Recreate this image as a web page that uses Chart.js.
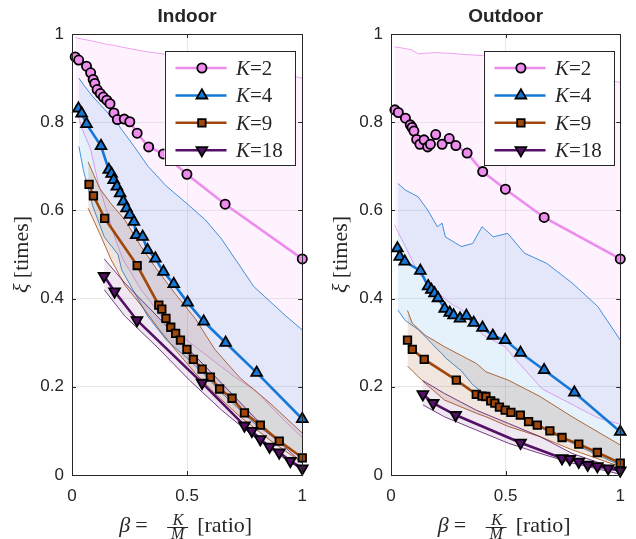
<!DOCTYPE html>
<html>
<head>
<meta charset="utf-8">
<title>Indoor / Outdoor</title>
<script src="https://cdn.jsdelivr.net/npm/chart.js@4.4.1/dist/chart.umd.min.js"></script>
<style>
  body { margin: 0; background: #fff; }
  #wrap { position: relative; width: 636px; height: 539px; }
  canvas { position: absolute; top: 0; }
</style>
</head>
<body>
<div id="wrap">
  <canvas id="indoor" width="318" height="539" style="left:0"></canvas>
  <canvas id="outdoor" width="318" height="539" style="left:318px"></canvas>
</div>
<script>
// ---- ticks ----
const xTicks = [0, 0.5, 1];
const xTickLabels = ['0', '0.5', '1'];
const yTicks = [0, 0.2, 0.4, 0.6, 0.8, 1];
const yTickLabels = ['0', '0.2', '0.4', '0.6', '0.8', '1'];
const kLabels = ['2', '4', '9', '18'];

// ---- Indoor: mean values ----
const inK2x = [0.014, 0.029, 0.063, 0.081, 0.092, 0.099, 0.109, 0.123, 0.136, 0.151, 0.165, 0.182, 0.197, 0.227, 0.251, 0.283, 0.333, 0.397, 0.499, 0.665, 1.0];
const inK2y = [0.948, 0.941, 0.927, 0.912, 0.897, 0.888, 0.874, 0.865, 0.857, 0.850, 0.842, 0.821, 0.806, 0.807, 0.801, 0.775, 0.744, 0.728, 0.682, 0.614, 0.490];
const inK4x = [0.028, 0.042, 0.063, 0.126, 0.160, 0.172, 0.181, 0.195, 0.209, 0.223, 0.237, 0.251, 0.269, 0.279, 0.307, 0.328, 0.362, 0.397, 0.442, 0.502, 0.572, 0.667, 0.802, 1.0];
const inK4y = [0.831, 0.820, 0.796, 0.746, 0.692, 0.683, 0.669, 0.654, 0.639, 0.620, 0.605, 0.590, 0.574, 0.544, 0.540, 0.510, 0.491, 0.461, 0.433, 0.391, 0.348, 0.300, 0.232, 0.127];
const inK9x = [0.074, 0.093, 0.142, 0.283, 0.377, 0.390, 0.408, 0.429, 0.450, 0.471, 0.499, 0.527, 0.565, 0.601, 0.641, 0.695, 0.749, 0.818, 0.900, 1.0];
const inK9y = [0.659, 0.633, 0.582, 0.475, 0.385, 0.376, 0.355, 0.335, 0.321, 0.306, 0.285, 0.262, 0.240, 0.222, 0.195, 0.174, 0.141, 0.113, 0.077, 0.039];
const inK18x = [0.139, 0.185, 0.282, 0.565, 0.749, 0.781, 0.818, 0.858, 0.900, 0.948, 1.0];
const inK18y = [0.451, 0.416, 0.351, 0.209, 0.112, 0.100, 0.081, 0.064, 0.051, 0.032, 0.015];

// ---- Indoor: min / max bands ----
const inB2x = [0.015, 0.04, 0.08, 0.115, 0.15, 0.185, 0.22, 0.3, 0.335, 0.41, 0.5, 0.6, 0.7, 0.8, 0.9, 1.0];
const inB2hi = [0.992, 0.989, 0.985, 0.981, 0.977, 0.974, 0.970, 0.962, 0.959, 0.954, 0.948, 0.940, 0.930, 0.920, 0.910, 0.900];
const inB2lo = [0.840, 0.790, 0.740, 0.660, 0.600, 0.540, 0.490, 0.420, 0.397, 0.344, 0.305, 0.265, 0.225, 0.190, 0.135, 0.085];
const inB4x = [0.03, 0.05, 0.09, 0.14, 0.2, 0.216, 0.27, 0.33, 0.41, 0.5, 0.58, 0.65, 0.79, 0.93, 1.0];
const inB4hi = [0.900, 0.885, 0.858, 0.830, 0.795, 0.783, 0.745, 0.700, 0.655, 0.615, 0.578, 0.535, 0.427, 0.360, 0.329];
const inB4lo = [0.745, 0.690, 0.610, 0.540, 0.500, 0.465, 0.415, 0.359, 0.306, 0.265, 0.225, 0.186, 0.118, 0.064, 0.041];
const inB9x = [0.07, 0.12, 0.17, 0.23, 0.30, 0.37, 0.45, 0.535, 0.62, 0.73, 0.86, 1.0];
const inB9hi = [0.710, 0.650, 0.615, 0.578, 0.518, 0.465, 0.410, 0.355, 0.285, 0.220, 0.163, 0.095];
const inB9lo = [0.605, 0.548, 0.488, 0.430, 0.385, 0.336, 0.283, 0.231, 0.185, 0.132, 0.079, 0.027];
const inB18x = [0.14, 0.23, 0.37, 0.51, 0.65, 0.79, 0.9, 1.0];
const inB18hi = [0.490, 0.435, 0.360, 0.283, 0.208, 0.132, 0.075, 0.027];
const inB18lo = [0.420, 0.360, 0.290, 0.215, 0.147, 0.087, 0.045, 0.011];

// ---- Outdoor: mean values ----
const outK2x = [0.017, 0.032, 0.063, 0.084, 0.092, 0.100, 0.112, 0.126, 0.144, 0.160, 0.172, 0.195, 0.223, 0.254, 0.283, 0.332, 0.400, 0.499, 0.668, 1.0];
const outK2y = [0.828, 0.822, 0.809, 0.794, 0.788, 0.780, 0.761, 0.750, 0.760, 0.744, 0.750, 0.772, 0.750, 0.763, 0.747, 0.730, 0.688, 0.648, 0.584, 0.490];
const outK4x = [0.028, 0.038, 0.060, 0.128, 0.162, 0.176, 0.190, 0.205, 0.234, 0.256, 0.273, 0.301, 0.329, 0.361, 0.399, 0.444, 0.498, 0.565, 0.668, 0.800, 1.0];
const outK4y = [0.514, 0.495, 0.484, 0.463, 0.428, 0.420, 0.412, 0.401, 0.377, 0.368, 0.362, 0.355, 0.361, 0.345, 0.334, 0.316, 0.306, 0.277, 0.238, 0.187, 0.098];
const outK9x = [0.072, 0.093, 0.145, 0.285, 0.372, 0.397, 0.414, 0.435, 0.453, 0.473, 0.498, 0.523, 0.564, 0.600, 0.638, 0.693, 0.746, 0.819, 0.900, 1.0];
const outK9y = [0.306, 0.285, 0.262, 0.215, 0.183, 0.179, 0.178, 0.168, 0.163, 0.154, 0.147, 0.142, 0.136, 0.121, 0.113, 0.100, 0.085, 0.070, 0.051, 0.027];
const outK18x = [0.139, 0.184, 0.282, 0.565, 0.746, 0.780, 0.819, 0.858, 0.900, 0.947, 1.0];
const outK18y = [0.183, 0.163, 0.136, 0.073, 0.038, 0.036, 0.030, 0.023, 0.020, 0.015, 0.010];

// ---- Outdoor: min / max bands ----
const outB2x = [0.015, 0.063, 0.09, 0.12, 0.19, 0.26, 0.31, 0.4, 0.5, 0.53, 0.66, 0.79, 0.9, 1.0];
const outB2hi = [0.971, 0.967, 0.964, 0.955, 0.958, 0.956, 0.954, 0.951, 0.945, 0.943, 0.933, 0.918, 0.900, 0.890];
const outB2lo = [0.567, 0.518, 0.488, 0.457, 0.420, 0.389, 0.374, 0.318, 0.290, 0.270, 0.195, 0.160, 0.130, 0.115];
const outB4x = [0.03, 0.063, 0.118, 0.16, 0.202, 0.223, 0.237, 0.307, 0.356, 0.397, 0.446, 0.509, 0.582, 0.679, 0.791, 0.902, 1.0];
const outB4hi = [0.661, 0.646, 0.631, 0.601, 0.563, 0.571, 0.540, 0.518, 0.525, 0.563, 0.540, 0.548, 0.503, 0.480, 0.435, 0.382, 0.306];
const outB4lo = [0.374, 0.350, 0.330, 0.308, 0.285, 0.275, 0.266, 0.236, 0.205, 0.188, 0.170, 0.150, 0.128, 0.100, 0.072, 0.045, 0.022];
const outB9x = [0.072, 0.093, 0.149, 0.233, 0.372, 0.414, 0.512, 0.65, 0.79, 1.0];
const outB9hi = [0.373, 0.344, 0.317, 0.291, 0.253, 0.234, 0.215, 0.178, 0.132, 0.068];
const outB9lo = [0.247, 0.236, 0.208, 0.170, 0.140, 0.132, 0.110, 0.087, 0.057, 0.019];
const outB18x = [0.139, 0.233, 0.372, 0.512, 0.65, 0.79, 1.0];
const outB18hi = [0.214, 0.185, 0.147, 0.117, 0.087, 0.049, 0.011];
const outB18lo = [0.159, 0.132, 0.102, 0.072, 0.049, 0.027, 0.002];

// ---- styles ----
const lineColors = ['rgb(238,140,238)', 'rgb(22,120,214)', 'rgb(160,72,12)', 'rgb(85,15,105)'];
const bandFills = ['rgba(238,130,238,0.10)', 'rgba(38,138,222,0.12)', 'rgba(140,60,5,0.13)', 'rgba(100,30,110,0.10)'];
const markerStyles = ['circle', 'triangle', 'rect', 'triangle'];
const markerRot = [0, 0, 0, 180];
const markerRad = [4.6, 6.2, 5.3, 6.2];
const textCol = '#262626';

const pts = (xs, ys) => xs.map((x, i) => ({x: x, y: ys[i]}));

function drawMarker(ctx, i, x, y) {
  const r = markerRad[i];
  ctx.beginPath();
  if (markerStyles[i] === 'circle') {
    ctx.arc(x, y, r, 0, Math.PI * 2);
  } else if (markerStyles[i] === 'rect') {
    const s = r * Math.SQRT1_2;
    ctx.rect(x - s, y - s, 2 * s, 2 * s);
  } else {
    const dir = markerRot[i] ? -1 : 1;
    for (let k = 0; k < 3; k++) {
      const a = k * 2 * Math.PI / 3;
      const px = x + Math.sin(a) * r, py = y - dir * Math.cos(a) * r;
      if (k === 0) ctx.moveTo(px, py); else ctx.lineTo(px, py);
    }
    ctx.closePath();
  }
  ctx.fillStyle = lineColors[i];
  ctx.fill();
  ctx.lineWidth = 1.8;
  ctx.strokeStyle = '#000';
  ctx.stroke();
}

const decor = {
  id: 'decor',
  afterDraw(chart, args, opts) {
    const ctx = chart.ctx, ca = chart.chartArea;
    const xs = chart.scales.x, ys = chart.scales.y;
    ctx.save();
    // axes box + inward ticks
    ctx.strokeStyle = textCol;
    ctx.lineWidth = 1;
    ctx.strokeRect(Math.round(ca.left) + 0.5, Math.round(ca.top) + 0.5, Math.round(ca.right - ca.left), Math.round(ca.bottom - ca.top));
    ctx.beginPath();
    xTicks.forEach(v => {
      const px = Math.round(xs.getPixelForValue(v)) + 0.5;
      ctx.moveTo(px, ca.bottom); ctx.lineTo(px, ca.bottom - 4);
      ctx.moveTo(px, ca.top); ctx.lineTo(px, ca.top + 4);
    });
    yTicks.forEach(v => {
      const py = Math.round(ys.getPixelForValue(v)) + 0.5;
      ctx.moveTo(ca.left, py); ctx.lineTo(ca.left + 4, py);
      ctx.moveTo(ca.right, py); ctx.lineTo(ca.right - 4, py);
    });
    ctx.stroke();

    const cx = (ca.left + ca.right) / 2;
    ctx.fillStyle = textCol;
    // title
    ctx.font = 'bold 19px "Liberation Sans"';
    ctx.textAlign = 'center';
    ctx.textBaseline = 'alphabetic';
    ctx.fillText(opts.title, cx, 22);

    // x axis title: beta = K/M [ratio]
    ctx.textAlign = 'left';
    ctx.font = 'italic 22px "Liberation Serif"';
    ctx.fillText('β', cx - 68, 532);
    ctx.font = '22px "Liberation Serif"';
    ctx.fillText('=', cx - 52, 532);
    ctx.fillText('[ratio]', cx + 10, 532);
    ctx.font = 'italic 16px "Liberation Serif"';
    ctx.textAlign = 'center';
    ctx.fillText('K', cx - 9, 525);
    ctx.fillText('M', cx - 9.5, 538.5);
    ctx.fillRect(cx - 20, 527, 21, 1);

    // y axis title: xi [times]
    ctx.save();
    ctx.translate(ca.left - 50, (ca.top + ca.bottom) / 2);
    ctx.rotate(-Math.PI / 2);
    ctx.textAlign = 'left';
    ctx.font = 'italic 22px "Liberation Serif"';
    const wXi = ctx.measureText('ξ ').width;
    ctx.font = '22px "Liberation Serif"';
    const wT = ctx.measureText('[times]').width;
    const x0 = -(wXi + wT) / 2;
    ctx.font = 'italic 22px "Liberation Serif"';
    ctx.fillText('ξ', x0, 6);
    ctx.font = '22px "Liberation Serif"';
    ctx.fillText('[times]', x0 + wXi, 6);
    ctx.restore();

    // legend
    const bx = ca.left + 92.5, by = 51, bw = 130, bh = 114;
    ctx.fillStyle = '#fff';
    ctx.fillRect(bx, by, bw, bh);
    ctx.strokeStyle = textCol;
    ctx.lineWidth = 1;
    ctx.strokeRect(Math.round(bx) + 0.5, by + 0.5, bw, bh);
    kLabels.forEach((lab, i) => {
      const ry = 68 + i * 27.4;
      ctx.beginPath();
      ctx.moveTo(bx + 11, ry); ctx.lineTo(bx + 62, ry);
      ctx.strokeStyle = lineColors[i];
      ctx.lineWidth = 2.5;
      ctx.stroke();
      drawMarker(ctx, i, bx + 37.4, ry);
      ctx.fillStyle = textCol;
      ctx.textAlign = 'left';
      ctx.font = 'italic 21px "Liberation Serif"';
      ctx.fillText('K', bx + 71.5, ry + 7);
      const wk = ctx.measureText('K').width;
      ctx.font = '21px "Liberation Serif"';
      ctx.fillText('=' + lab, bx + 71.5 + wk, ry + 7);
    });
    ctx.restore();
  }
};

function makeChart(id, title, yAxisWidth, series, bands) {
  const datasets = [];
  series.forEach((s, i) => {
    datasets.push({
      data: pts(s[0], s[1]),
      borderColor: lineColors[i],
      borderWidth: 2.6,
      pointStyle: markerStyles[i],
      rotation: markerRot[i],
      pointRadius: markerRad[i],
      pointBackgroundColor: lineColors[i],
      pointBorderColor: '#000',
      pointBorderWidth: 1.8,
      fill: false,
      tension: 0,
      clip: false,
      order: 4 - i
    });
  });
  bands.forEach((b, i) => {
    datasets.push({
      data: pts(b[0], b[1]),
      borderColor: lineColors[i],
      borderWidth: 0.8,
      pointRadius: 0,
      backgroundColor: bandFills[i],
      fill: '+1',
      tension: 0,
      order: 10 - i
    });
    datasets.push({
      data: pts(b[0], b[2]),
      borderColor: lineColors[i],
      borderWidth: 0.8,
      pointRadius: 0,
      fill: false,
      tension: 0,
      order: 10 - i
    });
  });

  const tickFont = {family: 'Liberation Sans', size: 17};
  return new Chart(document.getElementById(id), {
    type: 'line',
    data: {datasets: datasets},
    options: {
      responsive: false,
      animation: false,
      events: [],
      layout: {autoPadding: false, padding: {left: 0, right: 318 - yAxisWidth - 239, top: 34, bottom: 0}},
      scales: {
        x: {
          type: 'linear', min: 0, max: 1,
          afterBuildTicks: s => { s.ticks = xTicks.map(v => ({value: v})); },
          afterFit: s => { s.height = 64; },
          ticks: {callback: (v, i) => xTickLabels[i], font: tickFont, color: textCol, padding: 11, maxRotation: 0, autoSkip: false},
          grid: {color: 'rgba(0,0,0,0.09)', drawTicks: false},
          border: {display: false}
        },
        y: {
          type: 'linear', min: 0, max: 1,
          afterBuildTicks: s => { s.ticks = yTicks.map(v => ({value: v})); },
          afterFit: s => { s.width = yAxisWidth; },
          ticks: {callback: (v, i) => yTickLabels[i], font: tickFont, color: textCol, padding: 8, autoSkip: false},
          grid: {color: 'rgba(0,0,0,0.09)', drawTicks: false},
          border: {display: false}
        }
      },
      plugins: {
        legend: {display: false},
        tooltip: {enabled: false},
        decor: {title: title}
      }
    },
    plugins: [decor]
  });
}

makeChart('indoor', 'Indoor', 72,
  [[inK2x, inK2y], [inK4x, inK4y], [inK9x, inK9y], [inK18x, inK18y]],
  [[inB2x, inB2hi, inB2lo], [inB4x, inB4hi, inB4lo], [inB9x, inB9hi, inB9lo], [inB18x, inB18hi, inB18lo]]);
makeChart('outdoor', 'Outdoor', 73,
  [[outK2x, outK2y], [outK4x, outK4y], [outK9x, outK9y], [outK18x, outK18y]],
  [[outB2x, outB2hi, outB2lo], [outB4x, outB4hi, outB4lo], [outB9x, outB9hi, outB9lo], [outB18x, outB18hi, outB18lo]]);
</script>
</body>
</html>
